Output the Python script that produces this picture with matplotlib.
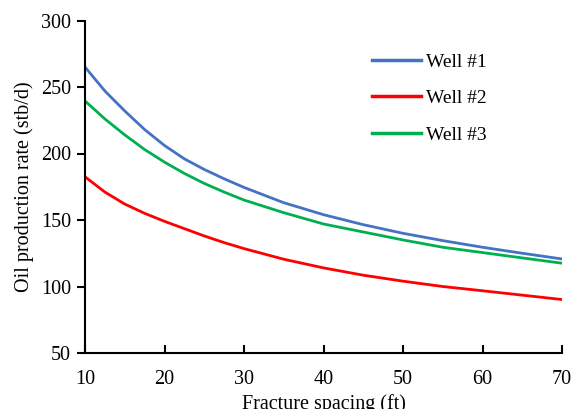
import matplotlib
matplotlib.use("Agg")
import matplotlib.pyplot as plt

spacing = [10, 12.5, 15, 17.5, 20, 22.5, 25, 27.5, 30, 35, 40, 45, 50, 55, 60, 65, 70]
well1 = [265, 247, 232, 218, 206, 196, 188, 181, 174.5, 163, 154, 146.5, 140, 134.5, 129.5, 125, 120.7]
well2 = [182.5, 171, 162, 155, 149, 143.5, 138, 133, 128.5, 120.5, 114, 108.5, 104, 100, 96.8, 93.5, 90.2]
well3 = [239.5, 226, 214, 203, 193.5, 185, 177.5, 171, 165, 155.5, 147, 141, 135, 129.5, 125.5, 121.5, 117.5]
labels = ["Well #1", "Well #2", "Well #3"]
colors = ["#4472C4", "#FF0000", "#00B050"]

plt.rcParams["font.family"] = ["Liberation Serif", "DejaVu Serif"]

fig = plt.figure(figsize=(5.72, 4.09), dpi=100)
ax = fig.add_axes([85/572, 1-353/409, (562-85)/572, (353-20.5)/409])

for y, lab, c in zip([well1, well2, well3], labels, colors):
    ax.plot(spacing, y, color=c, lw=2.0, label=lab, solid_joinstyle="round")

ax.set_xlim(10, 70)
ax.set_ylim(50, 300)
ax.set_xticks(range(10, 71, 10))
ax.set_yticks(range(50, 301, 50))
for s in ["top", "right"]:
    ax.spines[s].set_visible(False)
for s in ["left", "bottom"]:
    ax.spines[s].set_linewidth(1.5)
    ax.spines[s].set_color("black")
ax.tick_params(axis="x", direction="in", length=6, width=1.5, labelsize=14.5, pad=12)
ax.tick_params(axis="y", direction="out", length=6, width=1.5, labelsize=14.5, pad=4)
ax.set_xlabel("Fracture spacing (ft)", fontsize=14.5, labelpad=4)
ax.set_ylabel("Oil production rate (stb/d)", fontsize=14.5, labelpad=5)

leg = ax.legend(loc="upper left", bbox_to_anchor=(372/572, 1-53/409),
                bbox_transform=fig.transFigure, frameon=False, fontsize=14,
                handlelength=2.5, handletextpad=0.3, labelspacing=0.97,
                borderpad=0, borderaxespad=0)
for line in leg.get_lines():
    line.set_linewidth(2.5)

fig.savefig("out.png", dpi=100)
